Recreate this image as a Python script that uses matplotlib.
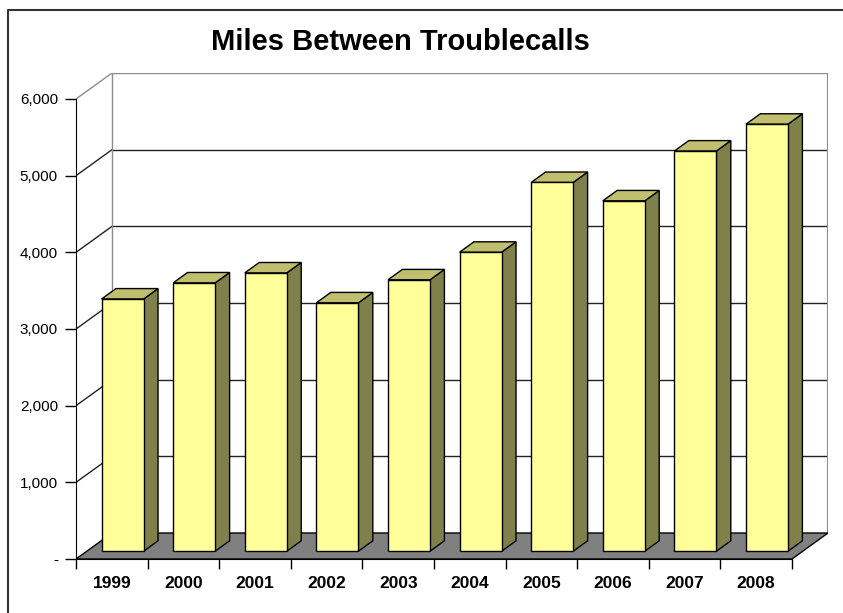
import matplotlib.pyplot as plt
from matplotlib.patches import Polygon
from matplotlib.lines import Line2D

plt.rcParams['font.family'] = ['Liberation Sans', 'DejaVu Sans']

# data
years = ['1999', '2000', '2001', '2002', '2003', '2004', '2005', '2006', '2007', '2008']
miles = [3290, 3500, 3630, 3240, 3540, 3900, 4810, 4570, 5220, 5570]
y_ticks = [0, 1000, 2000, 3000, 4000, 5000, 6000]
y_tick_labels = ['-', '1,000', '2,000', '3,000', '4,000', '5,000', '6,000']

# oblique projection of the depth axis (category units, value units)
DEPTH_X = 0.503
DEPTH_Y = 339
BAR_W = 0.587
BAR_D0, BAR_D1 = 0.3, 0.7   # bar depth span as fraction of floor depth
YMAX = 6000
n = len(years)

W, H = 843, 613
fig = plt.figure(figsize=(W / 100, H / 100), dpi=100)
ax = fig.add_axes([76 / W, (H - 559) / H, 752 / W, 486 / H])
ax.set_xlim(0, n + DEPTH_X)
ax.set_ylim(0, YMAX + DEPTH_Y)
ax.patch.set_visible(False)

# back wall and side wall
grid_c = '#222222'
edge_c = '#8c8c8c'
for v in y_ticks[1:]:
    c = edge_c if v == YMAX else grid_c
    ax.plot([DEPTH_X, n + DEPTH_X], [v + DEPTH_Y, v + DEPTH_Y], color=c, lw=1, zorder=1)
    ax.plot([0, DEPTH_X], [v, v + DEPTH_Y], color=c, lw=1, zorder=1)
ax.plot([DEPTH_X, DEPTH_X], [DEPTH_Y, YMAX + DEPTH_Y], color=edge_c, lw=1, zorder=1)
ax.plot([n + DEPTH_X, n + DEPTH_X], [DEPTH_Y, YMAX + DEPTH_Y], color=edge_c, lw=1.5, zorder=1)

# floor
floor = Polygon([(0, 0), (n, 0), (n + DEPTH_X, DEPTH_Y), (DEPTH_X, DEPTH_Y)],
                closed=True, facecolor='#808080', edgecolor='black', lw=1, zorder=2)
ax.add_patch(floor)

# bars: front faces
bx0 = BAR_D0 * DEPTH_X
by0 = BAR_D0 * DEPTH_Y
bdx = (BAR_D1 - BAR_D0) * DEPTH_X
bdy = (BAR_D1 - BAR_D0) * DEPTH_Y
centers = [i + 0.5 + bx0 for i in range(n)]
ax.bar(centers, miles, width=BAR_W, bottom=by0, color='#FFFF99',
       edgecolor='black', linewidth=1, zorder=4)

# bars: side and top faces
for cx, v in zip(centers, miles):
    xl, xr = cx - BAR_W / 2, cx + BAR_W / 2
    yt = by0 + v
    side = Polygon([(xr, by0), (xr + bdx, by0 + bdy), (xr + bdx, yt + bdy), (xr, yt)],
                   closed=True, facecolor='#80804A', edgecolor='black', lw=1, zorder=3)
    top = Polygon([(xl, yt), (xr, yt), (xr + bdx, yt + bdy), (xl + bdx, yt + bdy)],
                  closed=True, facecolor='#BFBF6F', edgecolor='black', lw=1, zorder=3)
    ax.add_patch(side)
    ax.add_patch(top)

# axes
for s in ['top', 'right']:
    ax.spines[s].set_visible(False)
ax.spines['left'].set_bounds(0, YMAX)
ax.spines['bottom'].set_bounds(0, n)
ax.spines['left'].set_zorder(5)
ax.spines['bottom'].set_zorder(5)
ax.set_yticks(y_ticks, y_tick_labels, fontsize=11)
ax.tick_params(axis='y', direction='out', length=8, width=1, pad=5)
ax.set_xticks(range(n + 1), [''] * (n + 1))
ax.set_xticks([i + 0.5 for i in range(n)], years, minor=True,
              fontsize=12.5, fontweight='bold')
ax.tick_params(axis='x', which='major', direction='out', length=7, width=1)
ax.tick_params(axis='x', which='minor', length=0, pad=12)

fig.text(400 / W, 1 - 42 / H, 'Miles Between Troublecalls', ha='center', va='center',
         fontsize=21, fontweight='bold')

# chart area border
fig.add_artist(Line2D([8 / W, 8 / W, 1.0], [0.0, 1 - 10 / H, 1 - 10 / H],
                      transform=fig.transFigure, color='#333333', lw=1.5))

fig.savefig('out.png', dpi=100)
